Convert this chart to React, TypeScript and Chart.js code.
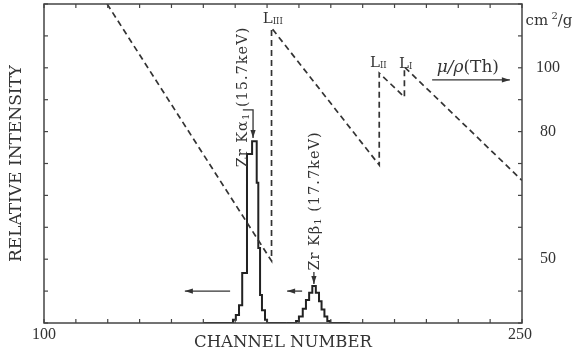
import React, { useEffect, useRef } from 'react';
import { Chart, registerables } from 'chart.js';

Chart.register(...registerables);

// ---- axis ranges / ticks ----
const X_RANGE = [100, 250];
const X_LABELED = [100, 250];
const INTENSITY_RANGE = [0, 10];
const MU_RANGE = [39.81, 125.89];
const MU_TICKS = [39.81, 44.67, 50.12, 56.23, 63.1, 70.79, 79.43, 89.13, 100, 112.2, 125.89];
const MU_LABELED = [100, 79.43, 50.12];
const MU_LABELS = ['100', '80', '50'];

// ---- mass attenuation coefficient of Th (dashed) ----
const MU_CHANNELS = [119.8, 171.4, 171.4, 205.2, 205.2, 213.1, 213.1, 250];
const MU_VALUES = [125.9, 49.8, 115.5, 70.4, 98.1, 90.0, 100.3, 66.6];

// ---- Zr K alpha1 peak (histogram, left edge of each level) ----
const KA_CHANNELS = [150, 159.3, 160.2, 161.2, 162.2, 163.7, 165.3, 166.75, 167.25, 167.8, 168.4, 169.35, 170.0, 176];
const KA_COUNTS = [0, 0.1, 0.25, 0.56, 1.57, 5.3, 5.7, 4.4, 2.35, 0.88, 0.4, 0.1, 0, 0];

// ---- Zr K beta1 peak ----
const KB_CHANNELS = [176, 179.1, 180.0, 181.2, 182.2, 183.2, 184.2, 185.3, 186.3, 187.1, 188.0, 188.9, 189.8, 196];
const KB_COUNTS = [0, 0.06, 0.2, 0.45, 0.72, 0.95, 1.16, 0.95, 0.68, 0.42, 0.2, 0.06, 0, 0];

const SERIF = "'DejaVu Serif', 'Liberation Serif', serif";
const NUMF = "'Liberation Serif', serif";
const INK = '#333';

type Seg = { t: string; size: number; dy?: number; italic?: boolean };

function drawSegs(ctx: CanvasRenderingContext2D, segs: Seg[], cx: number, cy: number, rot: number, baseSize: number, spacing = 0) {
  ctx.save();
  ctx.translate(cx, cy);
  ctx.rotate(rot);
  ctx.textBaseline = 'alphabetic';
  ctx.textAlign = 'left';
  (ctx as any).letterSpacing = `${spacing}px`;
  const widths = segs.map((s) => {
    ctx.font = `${s.italic ? 'italic ' : ''}${s.size}px ${SERIF}`;
    return ctx.measureText(s.t).width;
  });
  const total = widths.reduce((a, b) => a + b, 0);
  let x = -total / 2;
  const base = baseSize * 0.36;
  segs.forEach((s, i) => {
    ctx.font = `${s.italic ? 'italic ' : ''}${s.size}px ${SERIF}`;
    ctx.fillText(s.t, x, base + (s.dy || 0));
    x += widths[i];
  });
  ctx.restore();
}

function arrow(ctx: CanvasRenderingContext2D, pts: number[][]) {
  ctx.beginPath();
  ctx.moveTo(pts[0][0], pts[0][1]);
  for (let i = 1; i < pts.length; i++) ctx.lineTo(pts[i][0], pts[i][1]);
  ctx.stroke();
  const [x1, y1] = pts[pts.length - 2];
  const [x2, y2] = pts[pts.length - 1];
  const ang = Math.atan2(y2 - y1, x2 - x1);
  const L = 8, W = 2.6;
  ctx.beginPath();
  ctx.moveTo(x2, y2);
  ctx.lineTo(x2 - L * Math.cos(ang) + W * Math.sin(ang), y2 - L * Math.sin(ang) - W * Math.cos(ang));
  ctx.lineTo(x2 - L * Math.cos(ang) - W * Math.sin(ang), y2 - L * Math.sin(ang) + W * Math.cos(ang));
  ctx.closePath();
  ctx.fill();
}

const decor = {
  id: 'decor',
  afterDraw(chart: any) {
    const { ctx, chartArea: a, scales } = chart;
    const xs = scales.x, ys = scales.y, y2 = scales.y2;
    const X = (v: number) => xs.getPixelForValue(v);
    const Y = (v: number) => ys.getPixelForValue(v);
    const M = (v: number) => y2.getPixelForValue(v);
    ctx.save();
    ctx.strokeStyle = '#444';
    ctx.fillStyle = INK;
    ctx.lineWidth = 1.5;
    ctx.strokeRect(a.left, a.top, a.right - a.left, a.bottom - a.top);
    ctx.lineWidth = 1.2;
    const seg = (x1: number, y1: number, x2: number, yy2: number) => {
      ctx.beginPath(); ctx.moveTo(x1, y1); ctx.lineTo(x2, yy2); ctx.stroke();
    };
    xs.ticks.forEach((t: any) => {
      const p = X(t.value);
      seg(p, a.bottom, p, a.bottom - 4);
      seg(p, a.top, p, a.top + 4);
    });
    ys.ticks.forEach((t: any) => {
      const p = Y(t.value);
      seg(a.left, p, a.left + 4, p);
    });
    y2.ticks.forEach((t: any) => {
      const p = M(t.value);
      seg(a.right, p, a.right - 4, p);
    });

    // x tick labels
    ctx.font = `16px ${NUMF}`;
    ctx.textAlign = 'center';
    ctx.textBaseline = 'middle';
    X_LABELED.forEach((v, i) => {
      ctx.fillText(String(v), X(v) + (i === X_LABELED.length - 1 ? -2 : 0), a.bottom + 12);
    });

    // arrows
    ctx.strokeStyle = INK;
    ctx.lineWidth = 1.3;
    arrow(ctx, [[X(158.4), Y(1.0)], [X(144.2), Y(1.0)]]);
    arrow(ctx, [[X(181.0), Y(1.0)], [X(176.3), Y(1.0)]]);
    arrow(ctx, [[X(162.4), Y(6.68)], [X(165.6), Y(6.68)], [X(165.6), Y(5.8)]]);
    arrow(ctx, [[X(184.7), Y(1.6)], [X(184.7), Y(1.22)]]);
    arrow(ctx, [[X(221.8), M(95.7)], [X(246.2), M(95.7)]]);

    // texts
    drawSegs(ctx, [
      { t: 'Zr Kα', size: 14.5 }, { t: '1', size: 10, dy: 2 }, { t: ' (15.7keV)', size: 14.5 },
    ], X(162.0), 97, -Math.PI / 2, 14.5, 1);
    drawSegs(ctx, [
      { t: 'Zr Kβ', size: 14.5 }, { t: '1', size: 10, dy: 2 }, { t: ' (17.7keV)', size: 14.5 },
    ], X(184.7), 201, -Math.PI / 2, 14.5, 1);
    drawSegs(ctx, [{ t: 'L', size: 15 }, { t: 'III', size: 8.5, dy: 1 }], X(171.8), 17.5, 0, 15);
    drawSegs(ctx, [{ t: 'L', size: 15 }, { t: 'II', size: 8.5, dy: 1 }], X(204.9), 62, 0, 15);
    drawSegs(ctx, [{ t: 'L', size: 15 }, { t: 'I', size: 8.5, dy: 1 }], X(213.5), 62.5, 0, 15);
    drawSegs(ctx, [
      { t: 'μ/ρ', size: 17, italic: true }, { t: '(Th)', size: 17 },
    ], X(233.0), 66, 0, 17);
    drawSegs(ctx, [
      { t: 'cm', size: 15 }, { t: ' 2', size: 10, dy: -6 }, { t: '/g', size: 15 },
    ], 549, 20, 0, 15);
    ctx.restore();
  },
};

export default function App() {
  const ref = useRef<HTMLCanvasElement>(null);
  useEffect(() => {
    if (!ref.current) return;
    const chart = new Chart(ref.current, {
      type: 'line',
      data: {
        datasets: [
          {
            label: 'mu/rho (Th)',
            data: MU_CHANNELS.map((c, i) => ({ x: c, y: MU_VALUES[i] })),
            yAxisID: 'y2',
            borderColor: '#333',
            borderWidth: 1.7,
            borderDash: [6, 4],
            pointRadius: 0,
            tension: 0,
          },
          {
            label: 'Zr Ka1',
            data: KA_CHANNELS.map((c, i) => ({ x: c, y: KA_COUNTS[i] })),
            yAxisID: 'y',
            borderColor: '#222',
            borderWidth: 2,
            stepped: 'before',
            pointRadius: 0,
          },
          {
            label: 'Zr Kb1',
            data: KB_CHANNELS.map((c, i) => ({ x: c, y: KB_COUNTS[i] })),
            yAxisID: 'y',
            borderColor: '#222',
            borderWidth: 2,
            stepped: 'before',
            pointRadius: 0,
          },
        ],
      },
      options: {
        responsive: false,
        maintainAspectRatio: false,
        animation: false,
        layout: { padding: { top: 4, left: 0, right: 0, bottom: 0 } },
        plugins: { legend: { display: false }, tooltip: { enabled: false } },
        scales: {
          x: {
            type: 'linear',
            position: 'bottom',
            min: X_RANGE[0],
            max: X_RANGE[1],
            grid: { display: false },
            border: { display: false },
            afterFit: (s: any) => { s.height = 36; s.paddingLeft = 0; s.paddingRight = 0; },
            ticks: { stepSize: 10, display: false },
            title: {
              display: true,
              text: 'CHANNEL NUMBER',
              color: INK,
              font: { family: SERIF, size: 16.5 },
              padding: { top: 0, bottom: 6 },
            },
          },
          y: {
            type: 'linear',
            position: 'left',
            min: INTENSITY_RANGE[0],
            max: INTENSITY_RANGE[1],
            grid: { display: false },
            border: { display: false },
            afterFit: (s: any) => { s.width = 44; s.paddingTop = 0; s.paddingBottom = 0; },
            ticks: { stepSize: 1, display: false },
            title: {
              display: true,
              text: 'RELATIVE INTENSITY',
              color: INK,
              font: { family: SERIF, size: 17 },
              padding: { top: 6, bottom: 0 },
            },
          },
          y2: {
            type: 'logarithmic',
            position: 'right',
            min: MU_RANGE[0],
            max: MU_RANGE[1],
            grid: { display: false },
            border: { display: false },
            afterFit: (s: any) => { s.width = 50; s.paddingTop = 0; s.paddingBottom = 0; },
            afterBuildTicks: (s: any) => { s.ticks = MU_TICKS.map((v) => ({ value: v })); },
            ticks: {
              autoSkip: false,
              padding: 6,
              crossAlign: 'center',
              color: INK,
              font: { family: NUMF, size: 16 },
              callback: (v: any) => {
                const i = MU_LABELED.findIndex((m) => Math.abs(m - Number(v)) < 0.5);
                return i >= 0 ? MU_LABELS[i] : '';
              },
            },
          },
        },
      },
      plugins: [decor],
    } as any);
    return () => chart.destroy();
  }, []);
  return (
    <div style={{ position: 'fixed', left: 0, top: 0, width: 572, height: 359, background: '#fff' }}>
      <canvas ref={ref} width={572} height={359} />
    </div>
  );
}
